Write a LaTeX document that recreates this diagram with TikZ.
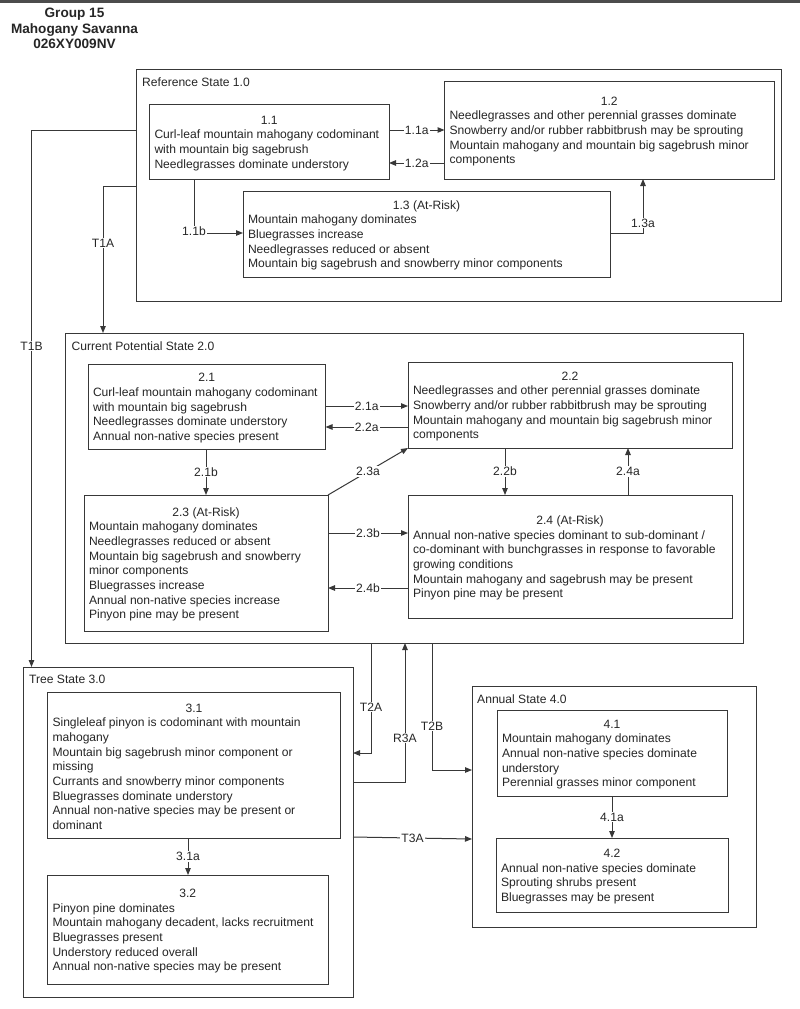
\documentclass[tikz,border=0pt]{standalone}
\usepackage{fontspec}
\setmainfont{Liberation Sans}
\usetikzlibrary{arrows.meta}
\definecolor{ln}{gray}{0.22}
\newcommand\fs{\fontsize{12.1}{14.67}\selectfont}
\newcommand\mkbox[7]{\node[bx, minimum width={#4pt-#2pt}, minimum height={#5pt-#3pt}] (#1) at (#2,#3) {\makebox[\dimexpr#4pt-#2pt-10pt\relax][c]{\rule{0pt}{11.8pt}#6}\\#7};}
\newcommand\mkstate[5]{\node[sb, minimum width={#4pt-#2pt}, minimum height={#5pt-#3pt}] (#1) at (#2,#3) {};}
\tikzset{
  bx/.style={draw=ln, line width=1pt, anchor=north west, align=left, inner xsep=5pt, inner ysep=0pt, outer sep=0pt, font=\fs, text=black!85},
  sb/.style={draw=ln, line width=1pt, anchor=north west, inner sep=0pt, outer sep=0pt},
  stlab/.style={anchor=base west, inner sep=0pt, font=\fs, text=black!85},
  arr/.style={draw=ln, line width=1pt, -{Triangle[length=7pt,width=5.5pt]}},
  lab/.style={fill=white, inner sep=1pt, font=\fs, text=black!85},
}
\begin{document}
\begin{tikzpicture}[x=1pt,y=-1pt]
\fill[white] (0,0) rectangle (800,1009);
\useasboundingbox (0,0) rectangle (800,1009);
\fill[gray!60!black] (0,0) rectangle (800,2.5);
% title
\node[align=center, font=\bfseries\fontsize{13.6}{15.3}\selectfont, inner sep=0pt, text=black!85] (title) at (74.5,28.5) {Group 15\\Mahogany Savanna\\026XY009NV};
% states
\mkstate{S1}{136.5}{69.5}{781}{301.5}
\mkstate{S2}{65}{333}{743}{643}
\mkstate{S3}{23}{667}{353}{997}
\mkstate{S4}{472}{686}{756}{927}
\node[stlab] (L1) at (142,86) {Reference State 1.0};
\node[stlab] (L2) at (71.5,350.5) {Current Potential State 2.0};
\node[stlab] (L3) at (29,683.5) {Tree State 3.0};
\node[stlab] (L4) at (477,703.5) {Annual State 4.0};
% community phases
\mkbox{B11}{149.5}{104}{389}{179}{1.1}{Curl-leaf mountain mahogany codominant\\with mountain big sagebrush\\Needlegrasses dominate understory}
\mkbox{B12}{444.5}{81}{774}{179}{1.2}{Needlegrasses and other perennial grasses dominate\\Snowberry and/or rubber rabbitbrush may be sprouting\\Mountain mahogany and mountain big sagebrush minor\\components}
\mkbox{B13}{243}{191}{610}{277}{1.3 (At-Risk)}{Mountain mahogany dominates\\Bluegrasses increase\\Needlegrasses reduced or absent\\Mountain big sagebrush and snowberry minor components}
\mkbox{B21}{88}{364}{325.5}{449}{2.1}{Curl-leaf mountain mahogany codominant\\with mountain big sagebrush\\Needlegrasses dominate understory\\Annual non-native species present}
\mkbox{B22}{408}{362}{732}{448}{2.2}{Needlegrasses and other perennial grasses dominate\\Snowberry and/or rubber rabbitbrush may be sprouting\\Mountain mahogany and mountain big sagebrush minor\\components}
\mkbox{B23}{84}{495}{328}{631}{2.3 (At-Risk)}{Mountain mahogany dominates\\Needlegrasses reduced or absent\\Mountain big sagebrush and snowberry\\minor components\\Bluegrasses increase\\Annual non-native species increase\\Pinyon pine may be present}
\mkbox{B24}{408}{495}{732}{618}{2.4 (At-Risk)}{Annual non-native species dominant to sub-dominant /\\co-dominant with bunchgrasses in response to favorable\\growing conditions\\Mountain mahogany and sagebrush may be present\\Pinyon pine may be present}
\mkbox{B31}{47.5}{692}{340.5}{838}{3.1}{Singleleaf pinyon is codominant with mountain\\mahogany\\Mountain big sagebrush minor component or\\missing\\Currants and snowberry minor components\\Bluegrasses dominate understory\\Annual non-native species may be present or\\dominant}
\mkbox{B32}{47.5}{875}{328}{984}{3.2}{Pinyon pine dominates\\Mountain mahogany decadent, lacks recruitment\\Bluegrasses present\\Understory reduced overall\\Annual non-native species may be present}
\mkbox{B41}{497}{710}{727}{796}{4.1}{Mountain mahogany dominates\\Annual non-native species dominate\\understory\\Perennial grasses minor component}
\mkbox{B42}{496}{838}{728}{912}{4.2}{Annual non-native species dominate\\Sprouting shrubs present\\Bluegrasses may be present}
% helper coordinates
\coordinate (h11a) at (0,130);
\coordinate (h12a) at (0,163);
\coordinate (c11b) at (194,233);
\coordinate (c13a) at (643,233);
\coordinate (cT1A) at (103,186);
\coordinate (cT1B) at (31.5,130);
\coordinate (h21a) at (0,406);
\coordinate (h22a) at (0,427);
\coordinate (v21b) at (206,0);
\coordinate (v22b) at (505,0);
\coordinate (v24a) at (628,0);
\coordinate (h23b) at (0,533);
\coordinate (h24b) at (0,588);
\coordinate (cT2A) at (371,753);
\coordinate (cR3A) at (405,782);
\coordinate (cT2B) at (432,770);
\coordinate (hT3As) at (0,837);
\coordinate (hT3Ae) at (0,839);
\coordinate (v31a) at (188,0);
\coordinate (v41a) at (612,0);
% state 1 transitions
\draw[arr] (B11.east |- h11a) -- node[lab]{1.1a} (B12.west |- h11a);
\draw[arr] (B12.west |- h12a) -- node[lab]{1.2a} (B11.east |- h12a);
\draw[arr] (B11.south -| c11b) |- node[lab, pos=0.5, yshift=1.5pt]{1.1b} (B13.west |- c11b);
\draw[arr] (B13.east |- c13a) -| (B12.south -| c13a);
\node[lab] (l13a) at (643,223) {1.3a};
% T1A / T1B
\draw[arr] (S1.west |- cT1A) -| (S2.north -| cT1A);
\node[lab] (lT1A) at (103,243) {T1A};
\draw[arr] (S1.west |- cT1B) -| (S3.north -| cT1B);
\node[lab] (lT1B) at (31.5,346) {T1B};
% state 2 transitions
\draw[arr] (B21.east |- h21a) -- node[lab]{2.1a} (B22.west |- h21a);
\draw[arr] (B22.west |- h22a) -- node[lab]{2.2a} (B21.east |- h22a);
\draw[arr] (B21.south -| v21b) -- node[lab]{2.1b} (B23.north -| v21b);
\draw[arr] (B23.north east) -- node[lab]{2.3a} (B22.south west);
\draw[arr] (B22.south -| v22b) -- node[lab]{2.2b} (B24.north -| v22b);
\draw[arr] (B24.north -| v24a) -- node[lab]{2.4a} (B22.south -| v24a);
\draw[arr] (B23.east |- h23b) -- node[lab]{2.3b} (B24.west |- h23b);
\draw[arr] (B24.west |- h24b) -- node[lab]{2.4b} (B23.east |- h24b);
% state transitions 2 -> 3/4
\draw[arr] (S2.south -| cT2A) |- (S3.east |- cT2A);
\node[lab] (lT2A) at (371,707) {T2A};
\draw[arr] (S3.east |- cR3A) -| (S2.south -| cR3A);
\node[lab] (lR3A) at (405,738) {R3A};
\draw[arr] (S2.south -| cT2B) |- (S4.west |- cT2B);
\node[lab] (lT2B) at (432,726) {T2B};
\draw[arr] (S3.east |- hT3As) -- node[lab]{T3A} (S4.west |- hT3Ae);
% within states 3 and 4
\draw[arr] (B31.south -| v31a) -- node[lab]{3.1a} (B32.north -| v31a);
\draw[arr] (B41.south -| v41a) -- node[lab]{4.1a} (B42.north -| v41a);
\end{tikzpicture}
\end{document}
